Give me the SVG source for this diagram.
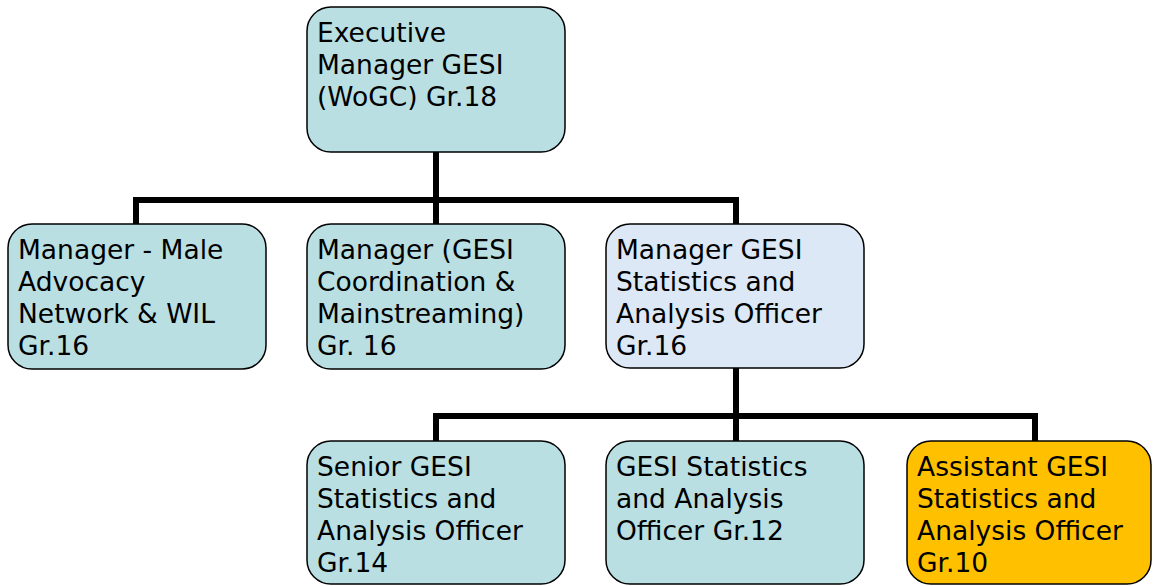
<svg xmlns="http://www.w3.org/2000/svg" width="1153" height="586" viewBox="0 0 1153 586">
<style>
.box{stroke:#000;stroke-width:1.5}
.teal{fill:#B9DFE3}
.blue{fill:#DCE8F5}
.orange{fill:#FFC000}
text{font-family:"DejaVu Sans",Verdana,sans-serif;font-size:26.5px;fill:#000}
.conn{fill:none;stroke:#000;stroke-width:6}
</style>
<rect width="1153" height="586" fill="#fff"/>
<g id="connectors">
<path class="conn" d="M436 152V200M136 224V200H736V224M436 200V224"/>
<path class="conn" d="M736 368V416M436 441V416H1035V441M736 416V441"/>
</g>
<g id="exec">
<rect class="box teal" x="307" y="7" width="258" height="145" rx="24"/>
<text x="317" y="42">Executive</text>
<text x="317" y="74">Manager GESI</text>
<text x="317" y="106">(WoGC) Gr.18</text>
</g>
<g id="male">
<rect class="box teal" x="8" y="224" width="258" height="145" rx="24"/>
<text x="18" y="259">Manager - Male</text>
<text x="18" y="291">Advocacy</text>
<text x="18" y="323">Network &amp; WIL</text>
<text x="18" y="355">Gr.16</text>
</g>
<g id="coord">
<rect class="box teal" x="307" y="224" width="258" height="145" rx="24"/>
<text x="317" y="259">Manager (GESI</text>
<text x="317" y="291">Coordination &amp;</text>
<text x="317" y="323">Mainstreaming)</text>
<text x="317" y="355">Gr. 16</text>
</g>
<g id="stats">
<rect class="box blue" x="606" y="224" width="258" height="144" rx="24"/>
<text x="616" y="259">Manager GESI</text>
<text x="616" y="291">Statistics and</text>
<text x="616" y="323">Analysis Officer</text>
<text x="616" y="355">Gr.16</text>
</g>
<g id="senior">
<rect class="box teal" x="307" y="441" width="258" height="143" rx="24"/>
<text x="317" y="476">Senior GESI</text>
<text x="317" y="508">Statistics and</text>
<text x="317" y="540">Analysis Officer</text>
<text x="317" y="572">Gr.14</text>
</g>
<g id="officer">
<rect class="box teal" x="606" y="441" width="258" height="143" rx="24"/>
<text x="616" y="476">GESI Statistics</text>
<text x="616" y="508">and Analysis</text>
<text x="616" y="540">Officer Gr.12</text>
</g>
<g id="assistant">
<rect class="box orange" x="907" y="441" width="244" height="143" rx="24"/>
<text x="917" y="476">Assistant GESI</text>
<text x="917" y="508">Statistics and</text>
<text x="917" y="540">Analysis Officer</text>
<text x="917" y="572">Gr.10</text>
</g>
</svg>
